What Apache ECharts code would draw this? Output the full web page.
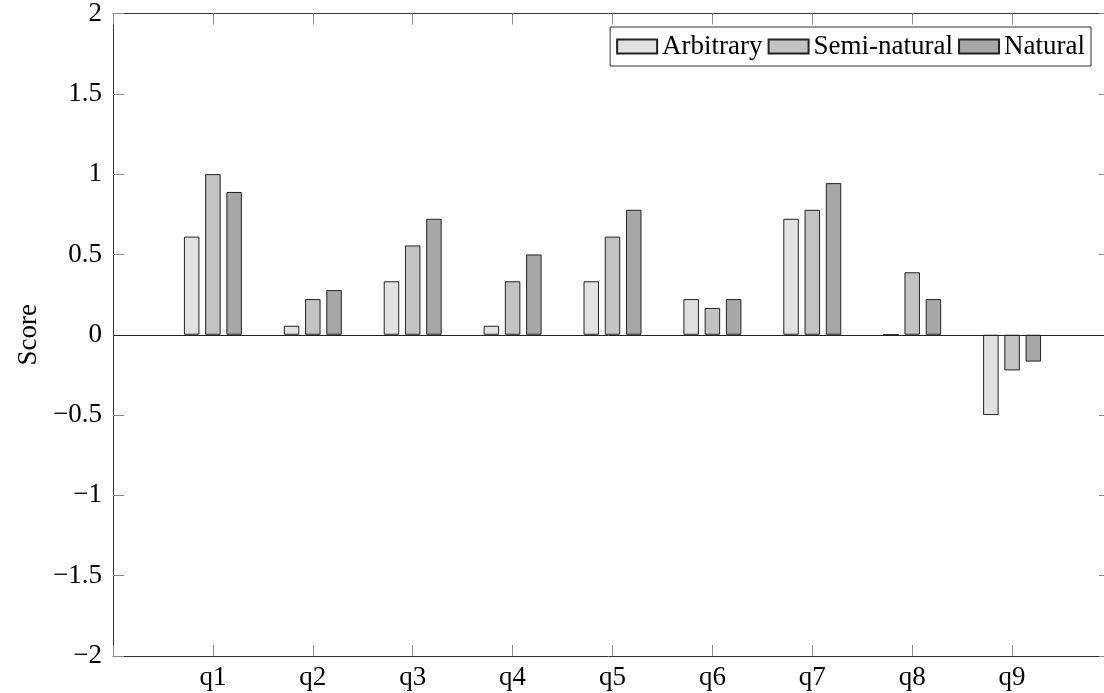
<!DOCTYPE html>
<html>
<head>
<meta charset="utf-8">
<script src="https://cdn.jsdelivr.net/npm/echarts@6/dist/echarts.min.js"></script>
<style>
html,body{margin:0;padding:0;background:#fff;}
#chart{width:1104px;height:693px;}
</style>
</head>
<body>
<div id="chart"></div>
<script>
const categories = ['q1','q2','q3','q4','q5','q6','q7','q8','q9'];
const seriesNames = ['Arbitrary','Semi-natural','Natural'];
const arbitrary   = [0.611, 0.056, 0.333, 0.056, 0.333, 0.222, 0.722, 0.000, -0.500];
const semiNatural = [1.000, 0.222, 0.556, 0.333, 0.611, 0.167, 0.778, 0.389, -0.222];
const natural     = [0.889, 0.278, 0.722, 0.500, 0.778, 0.222, 0.944, 0.222, -0.167];
const yMin = -2, yMax = 2, yStep = 0.5;
const xMin = 0, xMax = 9.92;   // visible x range (plot is cropped at the right edge)

const FONT = '"Liberation Serif", "DejaVu Serif", serif';
const fills = ['#e1e1e1', '#c3c3c3', '#a7a7a7'];
const values = [arbitrary, semiNatural, natural];

function fmtY(v){
  const s = String(Math.round(v*10)/10);
  return s.replace('-', '\u2212');
}

const axisLine = {show:true, onZero:false, lineStyle:{color:'#333', width:1}};
const tickStyle = {show:true, inside:true, length:11, lineStyle:{color:'#888', width:1}};

const chart = echarts.init(document.getElementById('chart'), null, {renderer:'canvas'});
chart.setOption({
  animation:false,
  backgroundColor:'#fff',
  textStyle:{fontFamily:FONT},
  grid:{left:113, right:0, top:13, bottom:37, containLabel:false},
  legend:{
    data: seriesNames,
    right: 13, top: 27,
    orient:'horizontal',
    itemWidth:40, itemHeight:14, itemGap:5,
    padding:[6,6,6,6],
    borderColor:'#333', borderWidth:1, borderRadius:0,
    icon:'rect',
    textStyle:{fontFamily:FONT, fontSize:27, color:'#000', lineHeight:27}
  },
  xAxis:[
    {type:'value', min:xMin, max:xMax, interval:1, position:'bottom',
     axisLine:axisLine, axisTick:tickStyle, splitLine:{show:false},
     axisLabel:{show:true, margin:8, fontFamily:FONT, fontSize:27, color:'#000', showMaxLabel:false,
       formatter:function(v){ return (Number.isInteger(v) && v>=1 && v<=categories.length) ? categories[v-1] : ''; }}},
    {type:'value', min:xMin, max:xMax, interval:1, position:'top',
     axisLine:axisLine, axisTick:tickStyle, splitLine:{show:false}, axisLabel:{show:false}}
  ],
  yAxis:[
    {type:'value', min:yMin, max:yMax, interval:yStep, position:'left',
     name:'Score', nameLocation:'middle', nameGap:70, nameRotate:90,
     nameTextStyle:{fontFamily:FONT, fontSize:27, color:'#000'},
     axisLine:axisLine, axisTick:tickStyle, splitLine:{show:false},
     axisLabel:{margin:11, fontFamily:FONT, fontSize:27, color:'#000', formatter:fmtY}},
    {type:'value', min:yMin, max:yMax, interval:yStep, position:'right',
     axisLine:{show:false, onZero:false},
     axisTick:{show:true, inside:true, length:5, lineStyle:{color:'#888', width:1}},
     splitLine:{show:false}, axisLabel:{show:false}}
  ],
  series: seriesNames.map(function(name, si){
    const s = {
      name:name, type:'bar', xAxisIndex:0, yAxisIndex:0,
      barWidth:15.5, barGap:'37%',
      data: values[si].map(function(v,i){ return [i+1, v]; }),
      itemStyle:{color:fills[si], borderColor:'#222', borderWidth:1},
      emphasis:{disabled:true}
    };
    if(si===2){
      s.markLine = {silent:true, symbol:'none', label:{show:false},
        lineStyle:{color:'#222', width:1, type:'solid'},
        data:[{yAxis:0}]};
    }
    return s;
  })
});
</script>
</body>
</html>
